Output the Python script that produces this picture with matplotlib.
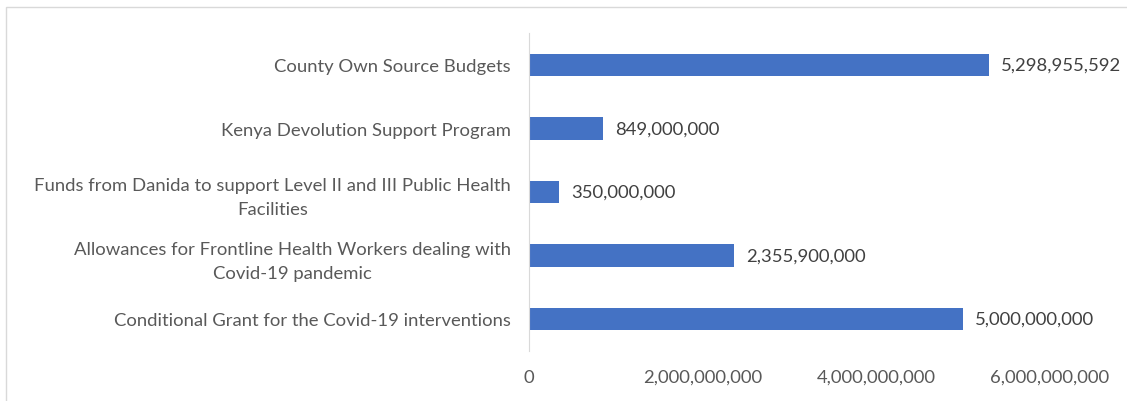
import matplotlib.pyplot as plt
from matplotlib.patches import Rectangle
from matplotlib.ticker import FuncFormatter

# funding sources, bottom to top
categories = [
    "Conditional Grant for the Covid-19 interventions",
    "Allowances for Frontline Health Workers dealing with\nCovid-19 pandemic",
    "Funds from Danida to support Level II and III Public Health\nFacilities",
    "Kenya Devolution Support Program",
    "County Own Source Budgets",
]
amounts = [5000000000, 2355900000, 350000000, 849000000, 5298955592]
x_ticks = [0, 2000000000, 4000000000, 6000000000]

plt.rcParams['font.family'] = ['Lato', 'DejaVu Sans']
fs = 13.3

fig = plt.figure(figsize=(11.27, 4.02), dpi=100)
ax = fig.add_axes([0.4694, 0.125, 0.4623, 0.79])

pos = range(len(categories))
bars = ax.barh(pos, amounts, height=0.35, color='#4472C4')

for b, v in zip(bars, amounts):
    ax.text(v + 0.14e9, b.get_y() + b.get_height() / 2, f"{v:,}",
            va='center', ha='left', fontsize=fs, color='#404040')

ax.set_yticks(list(pos))
ax.set_yticklabels(categories, fontsize=fs, color='#595959',
                   multialignment='center', linespacing=1.6)
ax.set_xticks(x_ticks)
ax.xaxis.set_major_formatter(FuncFormatter(lambda v, p: f"{int(v):,}"))
ax.tick_params(axis='x', labelsize=fs, colors='#595959', length=0, pad=13)
ax.tick_params(axis='y', length=0, pad=13)
ax.set_xlim(0, 6e9)
ax.set_ylim(-0.5, 4.5)

for s in ['top', 'right', 'bottom']:
    ax.spines[s].set_visible(False)
ax.spines['left'].set_color('#d9d9d9')

# outer chart border (left and top edges only visible)
fig.patches.append(Rectangle((6 / 1127, -0.1), 1.2, 1 - 8 / 402 + 0.1,
                             transform=fig.transFigure, fill=False,
                             edgecolor='#d9d9d9', linewidth=1))

plt.savefig("out.png", dpi=100)
